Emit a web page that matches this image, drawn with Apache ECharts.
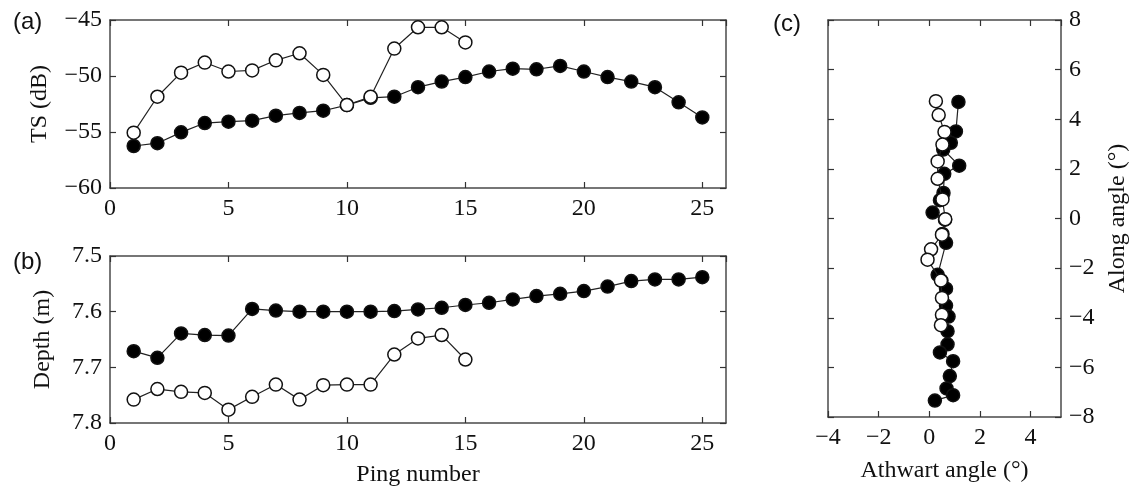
<!DOCTYPE html>
<html>
<head>
<meta charset="utf-8">
<script src="https://cdn.jsdelivr.net/npm/echarts@6/dist/echarts.min.js"></script>
<style>
  html, body { margin: 0; padding: 0; background: #fff; }
  #chart { width: 1131px; height: 488px; }
</style>
</head>
<body>
<div id="chart"></div>
<script>
// Ping numbers for the two tracked targets
const pingsA = [1,2,3,4,5,6,7,8,9,10,11,12,13,14,15,16,17,18,19,20,21,22,23,24,25];
const pingsB = [1,2,3,4,5,6,7,8,9,10,11,12,13,14,15];

// Target strength (dB) per ping
const tsFilled = [-56.25,-56.0,-55.03,-54.2,-54.08,-53.99,-53.54,-53.3,-53.1,-52.6,-51.95,-51.85,-51.0,-50.5,-50.1,-49.6,-49.35,-49.4,-49.1,-49.6,-50.1,-50.5,-51.0,-52.35,-53.7];
const tsOpen   = [-55.06,-51.85,-49.7,-48.8,-49.6,-49.5,-48.6,-47.97,-49.9,-52.6,-51.85,-47.55,-45.65,-45.65,-47.0];

// Depth (m) per ping
const depthFilled = [7.671,7.683,7.639,7.642,7.643,7.595,7.598,7.600,7.600,7.600,7.600,7.599,7.596,7.593,7.588,7.584,7.578,7.572,7.568,7.563,7.555,7.545,7.542,7.542,7.538];
const depthOpen   = [7.758,7.739,7.744,7.746,7.776,7.753,7.731,7.758,7.732,7.731,7.731,7.677,7.648,7.642,7.686];

// Split-beam angles (degrees)
const athwartFilled = [1.15,1.05,0.85,0.55,1.18,0.59,0.56,0.42,0.13,0.62,0.52,0.66,0.33,0.48,0.66,0.66,0.76,0.72,0.72,0.42,0.94,0.81,0.68,0.94,0.22];
const alongFilled   = [4.70,3.51,3.05,2.78,2.13,1.80,1.03,0.74,0.24,-0.05,-0.62,-0.98,-2.27,-2.50,-2.83,-3.51,-3.95,-4.54,-5.07,-5.40,-5.75,-6.35,-6.85,-7.12,-7.34];
const athwartOpen   = [0.26,0.37,0.60,0.52,0.33,0.33,0.52,0.63,0.50,0.07,-0.07,0.46,0.50,0.50,0.46];
const alongOpen     = [4.73,4.17,3.49,2.98,2.30,1.60,0.77,-0.03,-0.65,-1.24,-1.66,-2.50,-3.20,-3.88,-4.30];

const pairs = (xs, ys) => xs.map((x, i) => [x, ys[i]]);
const minus = v => String(v).replace('-', '\u2212');

const SERIF = 'Liberation Serif';
const AXIS_COLOR = '#4a4a4a';
const TEXT_COLOR = '#111';
const LABEL_SIZE = 24;

function labelStyle(extra) {
  return Object.assign({ show: true, color: TEXT_COLOR, fontFamily: SERIF, fontSize: LABEL_SIZE, margin: 8, formatter: minus }, extra);
}

function axisBase(extra) {
  return Object.assign({
    type: 'value',
    axisLine: { show: true, onZero: false, lineStyle: { color: AXIS_COLOR, width: 1.5 } },
    axisTick: { show: true, inside: true, length: 6, lineStyle: { color: '#333', width: 1.2 } },
    splitLine: { show: false },
    axisLabel: labelStyle({}),
    nameTextStyle: { color: TEXT_COLOR, fontFamily: SERIF, fontSize: 24 }
  }, extra);
}
function mirror(extra) {
  const a = axisBase(extra);
  a.axisLabel = { show: false };
  return a;
}

function lineSeries(xi, yi, data, filled) {
  return {
    type: 'line',
    xAxisIndex: xi, yAxisIndex: yi,
    data: data,
    symbol: 'circle',
    symbolSize: 13,
    showSymbol: true,
    lineStyle: { color: '#222', width: 1.2 },
    itemStyle: { color: filled ? '#000' : '#fff', borderColor: '#111', borderWidth: 1.5, opacity: 1 },
    emphasis: { disabled: true },
    z: filled ? 2 : 3
  };
}

const depthFmt = v => Number(v).toFixed(1);
const panelTitle = (text, left, top) => ({
  text, left, top,
  textStyle: { fontFamily: 'Liberation Sans', fontWeight: 'normal', fontSize: 24, color: TEXT_COLOR }
});

const option = {
  animation: false,
  backgroundColor: '#fff',
  title: [
    panelTitle('(a)', 8, 5),
    panelTitle('(b)', 8, 245),
    panelTitle('(c)', 768, 7)
  ],
  grid: [
    { left: 110, top: 20, width: 616, height: 168 },
    { left: 110, top: 256, width: 616, height: 168 },
    { left: 828, top: 20, width: 234, height: 404 }
  ],
  xAxis: [
    axisBase({ gridIndex: 0, position: 'bottom', min: 0, max: 26, interval: 5, axisLabel: labelStyle({ margin: 9, showMaxLabel: false }) }),
    mirror({ gridIndex: 0, position: 'top', min: 0, max: 26, interval: 5 }),
    axisBase({ gridIndex: 1, position: 'bottom', min: 0, max: 26, interval: 5, name: 'Ping number', nameLocation: 'middle', nameGap: 40,
      axisLabel: labelStyle({ margin: 9, showMaxLabel: false }) }),
    mirror({ gridIndex: 1, position: 'top', min: 0, max: 26, interval: 5 }),
    axisBase({ gridIndex: 2, position: 'bottom', min: -4, max: 5.2, interval: 2, name: 'Athwart angle (\u00b0)', nameLocation: 'middle', nameGap: 42,
      axisLabel: labelStyle({ margin: 9, showMaxLabel: false }) }),
    mirror({ gridIndex: 2, position: 'top', min: -4, max: 5.2, interval: 2 })
  ],
  yAxis: [
    axisBase({ gridIndex: 0, position: 'left', min: -60, max: -45, interval: 5, name: 'TS (dB)', nameLocation: 'middle', nameGap: 58, nameRotate: 90 }),
    mirror({ gridIndex: 0, position: 'right', min: -60, max: -45, interval: 5 }),
    axisBase({ gridIndex: 1, position: 'left', min: 7.5, max: 7.8, interval: 0.1, inverse: true, name: 'Depth (m)', nameLocation: 'middle', nameGap: 55, nameRotate: 90,
      axisLabel: labelStyle({ formatter: depthFmt }) }),
    mirror({ gridIndex: 1, position: 'right', min: 7.5, max: 7.8, interval: 0.1, inverse: true }),
    mirror({ gridIndex: 2, position: 'left', min: -8, max: 8, interval: 2 }),
    axisBase({ gridIndex: 2, position: 'right', min: -8, max: 8, interval: 2, name: 'Along angle (\u00b0)', nameLocation: 'middle', nameGap: 45, nameRotate: 90 })
  ],
  series: [
    lineSeries(0, 0, pairs(pingsA, tsFilled), true),
    lineSeries(0, 0, pairs(pingsB, tsOpen), false),
    lineSeries(2, 2, pairs(pingsA, depthFilled), true),
    lineSeries(2, 2, pairs(pingsB, depthOpen), false),
    lineSeries(4, 5, pairs(athwartFilled, alongFilled), true),
    lineSeries(4, 5, pairs(athwartOpen, alongOpen), false)
  ]
};

const chart = echarts.init(document.getElementById('chart'), null, { renderer: 'canvas' });
chart.setOption(option);
</script>
</body>
</html>
